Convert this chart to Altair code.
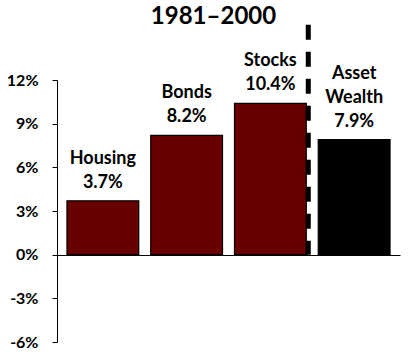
import altair as alt
import pandas as pd

categories = ["Housing", "Bonds", "Stocks", "Asset Wealth"]
values = [3.7, 8.2, 10.4, 7.9]
label_lines = [["Housing", "3.7%"], ["Bonds", "8.2%"], ["Stocks", "10.4%"], ["Asset", "Wealth", "7.9%"]]
colors = ["#680000", "#680000", "#680000", "#000000"]
y_ticks = [-6, -3, 0, 3, 6, 9, 12]
divider_category = "Stocks"
divider_top = 15.8

df = pd.DataFrame({"cat": categories, "val": values, "col": colors})
rows = []
for c, v, lines in zip(categories, values, label_lines):
    n = len(lines)
    for i, t in enumerate(lines):
        rows.append({"cat": c, "val": v, "txt": t, "k": n - 1 - i})
lab_df = pd.DataFrame(rows)
div = pd.DataFrame({"cat": [divider_category], "top": [divider_top], "bottom": [0]})

FONT = "Lato"
LINE_H = 24

xscale = alt.Scale(domain=categories, paddingInner=0.143, paddingOuter=0.119)
yscale = alt.Scale(domain=[-6, 12], nice=False, zero=False)

bars = alt.Chart(df).mark_bar(stroke="black", strokeWidth=1.2).encode(
    x=alt.X("cat:N", scale=xscale, sort=categories,
            axis=alt.Axis(title=None, labels=False, ticks=False, domainColor="black",
                          domainWidth=1, offset=-87, grid=False)),
    y=alt.Y("val:Q", scale=yscale,
            axis=alt.Axis(title=None, values=y_ticks, labelExpr="datum.value + '%'",
                          grid=False, domainColor="black", tickColor="black",
                          tickSize=5, labelPadding=14, labelFont=FONT, labelFontSize=16,
                          labelFontWeight="bold", labelColor="black")),
    color=alt.Color("col:N", scale=None),
)

label_layers = []
for k in range(3):
    label_layers.append(
        alt.Chart(lab_df).transform_filter(alt.datum.k == k).mark_text(
            font=FONT, fontSize=18, fontWeight="bold", baseline="alphabetic",
            dy=-13 - LINE_H * k, color="black"
        ).encode(
            x=alt.X("cat:N", scale=xscale, sort=categories),
            y=alt.Y("val:Q", scale=yscale),
            text="txt:N",
        )
    )

divider = alt.Chart(div).mark_rule(color="black", strokeWidth=5, strokeDash=[15, 12], xOffset=2).encode(
    x=alt.X("cat:N", scale=xscale, sort=categories, bandPosition=1),
    y=alt.Y("top:Q", scale=yscale),
    y2="bottom:Q",
)

chart = alt.layer(bars, *label_layers, divider).properties(
    width=343, height=262,
    title=alt.TitleParams("1981–2000", font=FONT, fontSize=24, fontWeight="bold",
                          color="black", anchor="middle", frame="group", dx=-15, dy=11),
    autosize=alt.AutoSizeParams(type="none"),
    padding={"left": 57, "top": 80, "right": 8, "bottom": 11},
).configure_view(stroke=None)

chart.save("out.html", embed_options={"renderer": "svg", "actions": False})
